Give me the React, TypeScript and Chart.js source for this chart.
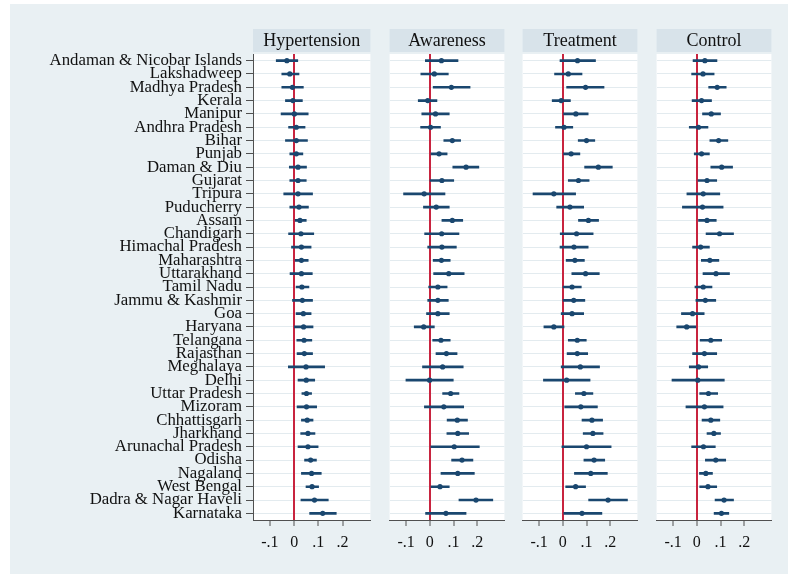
import React, { useEffect, useRef } from "react";
import { Chart, registerables } from "chart.js";

Chart.register(...registerables);

const states = [
  "Andaman & Nicobar Islands", "Lakshadweep", "Madhya Pradesh", "Kerala", "Manipur",
  "Andhra Pradesh", "Bihar", "Punjab", "Daman & Diu", "Gujarat", "Tripura", "Puducherry",
  "Assam", "Chandigarh", "Himachal Pradesh", "Maharashtra", "Uttarakhand", "Tamil Nadu",
  "Jammu & Kashmir", "Goa", "Haryana", "Telangana", "Rajasthan", "Meghalaya", "Delhi",
  "Uttar Pradesh", "Mizoram", "Chhattisgarh", "Jharkhand", "Arunachal Pradesh", "Odisha",
  "Nagaland", "West Bengal", "Dadra & Nagar Haveli", "Karnataka",
];

const xTicks = [-0.1, 0, 0.1, 0.2];
const xMin = -0.17;
const xMax = 0.315;

const panelTitles = ["Hypertension", "Awareness", "Treatment", "Control"];

const hypEst = [-0.030, -0.018, -0.007, -0.005, 0.001, 0.009, 0.009, 0.009, 0.016, 0.016, 0.016, 0.020, 0.024, 0.028, 0.030, 0.030, 0.030, 0.032, 0.034, 0.038, 0.039, 0.041, 0.042, 0.049, 0.050, 0.051, 0.051, 0.054, 0.057, 0.057, 0.068, 0.072, 0.074, 0.084, 0.118];
const hypLo = [-0.074, -0.051, -0.051, -0.036, -0.054, -0.023, -0.036, -0.018, -0.020, -0.018, -0.043, -0.018, 0.000, -0.023, -0.011, 0.000, -0.017, 0.008, -0.007, 0.008, 0.001, 0.011, 0.012, -0.024, 0.016, 0.032, 0.012, 0.030, 0.027, 0.016, 0.043, 0.030, 0.049, 0.028, 0.064];
const hypHi = [0.015, 0.020, 0.038, 0.034, 0.058, 0.045, 0.055, 0.036, 0.051, 0.050, 0.076, 0.059, 0.050, 0.081, 0.070, 0.058, 0.075, 0.061, 0.076, 0.070, 0.078, 0.073, 0.076, 0.126, 0.085, 0.072, 0.093, 0.078, 0.086, 0.099, 0.092, 0.112, 0.101, 0.141, 0.174];

const awaEst = [0.049, 0.019, 0.091, -0.009, 0.024, 0.003, 0.095, 0.039, 0.153, 0.051, -0.024, 0.027, 0.095, 0.050, 0.051, 0.049, 0.080, 0.034, 0.034, 0.034, -0.026, 0.047, 0.070, 0.054, -0.001, 0.088, 0.059, 0.116, 0.118, 0.103, 0.136, 0.118, 0.043, 0.195, 0.068];
const awaLo = [-0.019, -0.038, 0.014, -0.049, -0.034, -0.039, 0.059, 0.005, 0.097, 0.001, -0.111, -0.027, 0.051, -0.022, -0.009, 0.014, 0.016, -0.005, -0.009, -0.014, -0.066, 0.012, 0.026, -0.031, -0.101, 0.054, -0.023, 0.073, 0.072, 0.000, 0.092, 0.047, 0.005, 0.123, -0.018];
const awaHi = [0.119, 0.078, 0.170, 0.030, 0.082, 0.045, 0.130, 0.073, 0.207, 0.101, 0.064, 0.082, 0.139, 0.123, 0.112, 0.086, 0.145, 0.073, 0.078, 0.082, 0.019, 0.086, 0.115, 0.141, 0.099, 0.123, 0.143, 0.159, 0.164, 0.209, 0.182, 0.188, 0.082, 0.266, 0.153];

const treEst = [0.062, 0.023, 0.096, -0.007, 0.055, 0.005, 0.100, 0.035, 0.150, 0.066, -0.038, 0.030, 0.108, 0.058, 0.047, 0.051, 0.096, 0.039, 0.046, 0.039, -0.038, 0.061, 0.061, 0.074, 0.016, 0.089, 0.076, 0.123, 0.127, 0.100, 0.132, 0.118, 0.054, 0.191, 0.081];
const treLo = [-0.012, -0.035, 0.016, -0.045, 0.003, -0.031, 0.065, 0.003, 0.092, 0.023, -0.126, -0.026, 0.066, -0.011, -0.012, 0.014, 0.038, 0.001, 0.001, -0.007, -0.080, 0.023, 0.018, -0.007, -0.082, 0.053, 0.008, 0.081, 0.086, -0.004, 0.089, 0.049, 0.012, 0.109, 0.000];
const treHi = [0.138, 0.081, 0.174, 0.032, 0.107, 0.042, 0.135, 0.072, 0.209, 0.111, 0.054, 0.088, 0.151, 0.128, 0.107, 0.091, 0.154, 0.078, 0.093, 0.088, 0.005, 0.099, 0.105, 0.155, 0.115, 0.127, 0.146, 0.168, 0.170, 0.204, 0.177, 0.188, 0.096, 0.273, 0.165];

const conEst = [0.034, 0.026, 0.086, 0.020, 0.061, 0.007, 0.092, 0.020, 0.105, 0.043, 0.027, 0.024, 0.043, 0.096, 0.016, 0.055, 0.081, 0.027, 0.036, -0.018, -0.043, 0.059, 0.032, 0.007, 0.004, 0.049, 0.032, 0.059, 0.072, 0.028, 0.080, 0.038, 0.047, 0.115, 0.104];
const conLo = [-0.016, -0.022, 0.050, -0.020, 0.024, -0.032, 0.055, -0.011, 0.059, 0.005, -0.042, -0.061, 0.007, 0.039, -0.018, 0.019, 0.026, -0.008, -0.004, -0.065, -0.085, 0.014, -0.018, -0.032, -0.105, 0.012, -0.046, 0.022, 0.043, -0.022, 0.036, 0.011, 0.012, 0.077, 0.073];
const conHi = [0.085, 0.073, 0.124, 0.062, 0.100, 0.047, 0.131, 0.053, 0.151, 0.084, 0.097, 0.111, 0.082, 0.155, 0.053, 0.093, 0.138, 0.064, 0.080, 0.031, 0.000, 0.105, 0.084, 0.046, 0.116, 0.088, 0.111, 0.097, 0.100, 0.078, 0.122, 0.066, 0.084, 0.155, 0.135];

const panelEst = [hypEst, awaEst, treEst, conEst];
const panelLo = [hypLo, awaLo, treLo, conLo];
const panelHi = [hypHi, awaHi, treHi, conHi];

const NAVY = "#1a476f";
const RED = "#c8243f";
const BG = "#e9f0f3";
const STRIP = "#d8e3ea";
const GRID = "#e3ebef";
const AXIS = "#505050";
const SERIF = '"Liberation Serif", "Times New Roman", serif';

const panelDecor = {
  id: "panelDecor",
  beforeDraw(chart: any, _args: any, opts: any) {
    const { ctx, chartArea: a } = chart;
    ctx.save();
    ctx.fillStyle = "#ffffff";
    ctx.fillRect(a.left, a.top, a.right - a.left, a.bottom - a.top);
    ctx.fillStyle = STRIP;
    ctx.fillRect(a.left, a.top - 25, a.right - a.left, 23);
    ctx.fillStyle = "#111111";
    ctx.font = `18px ${SERIF}`;
    ctx.textAlign = "center";
    ctx.textBaseline = "middle";
    ctx.fillText(opts.text, (a.left + a.right) / 2, a.top - 13);
    ctx.restore();
  },
};

const fmt = (v: number) => {
  if (Math.abs(v) < 1e-9) return "0";
  const s = String(Math.round(Math.abs(v) * 10) / 10).replace(/^0/, "");
  return (v < 0 ? "-" : "") + s;
};

const CANVAS_TOP = 4;
const CANVAS_H = 570;

function Panel({ idx, left, width, yWidth }: { idx: number; left: number; width: number; yWidth: number }) {
  const ref = useRef<HTMLCanvasElement | null>(null);
  useEffect(() => {
    if (!ref.current) return;
    const showY = yWidth > 0;
    const est = panelEst[idx];
    const lo = panelLo[idx];
    const hi = panelHi[idx];
    const chart = new Chart(ref.current, {
      type: "bar",
      data: {
        labels: states,
        datasets: [
          {
            type: "bar",
            data: states.map((_, i) => [lo[i], hi[i]]) as any,
            backgroundColor: NAVY,
            borderWidth: 0,
            barThickness: 2,
            xAxisID: "x",
            yAxisID: "y",
            order: 2,
          } as any,
          {
            type: "scatter",
            data: states.map((s, i) => ({ x: est[i], y: s })) as any,
            backgroundColor: NAVY,
            borderWidth: 0,
            pointRadius: 2.6,
            pointHoverRadius: 2.6,
            xAxisID: "x",
            yAxisID: "y",
            order: 1,
          } as any,
        ],
      },
      options: {
        indexAxis: "y",
        responsive: false,
        animation: false,
        events: [],
        layout: { padding: { top: 50, left: 0, right: 0, bottom: 0 } },
        plugins: {
          legend: { display: false },
          tooltip: { enabled: false },
          title: { display: false },
          panelDecor: { text: panelTitles[idx] },
        } as any,
        scales: {
          y: {
            type: "category",
            offset: true,
            grid: {
              offset: false,
              color: GRID,
              lineWidth: 1,
              drawTicks: showY,
              tickLength: 7,
              tickColor: AXIS,
              tickWidth: 1,
            },
            border: { display: showY, color: AXIS, width: 1 },
            ticks: {
              display: showY,
              autoSkip: false,
              padding: 4,
              color: "#111111",
              font: { family: SERIF, size: 16.8 },
            },
            afterFit: (axis: any) => {
              axis.width = yWidth;
            },
          },
          x: {
            type: "linear",
            min: xMin,
            max: xMax,
            afterBuildTicks: (axis: any) => {
              axis.ticks = xTicks.map((v) => ({ value: v }));
            },
            grid: {
              color: (c: any) => (c.tick && Math.abs(c.tick.value) < 1e-9 ? RED : "rgba(0,0,0,0)"),
              lineWidth: 2,
              drawTicks: true,
              tickLength: 6,
              tickColor: AXIS,
              tickWidth: 1,
            },
            border: { display: true, color: AXIS, width: 1 },
            ticks: {
              padding: 7,
              maxRotation: 0,
              autoSkip: false,
              color: "#111111",
              font: { family: SERIF, size: 16 },
              callback: (v: any) => fmt(Number(v)),
            },
            afterFit: (axis: any) => {
              axis.height = 54;
            },
          },
        },
      } as any,
      plugins: [panelDecor],
    });
    return () => chart.destroy();
  }, [idx, left, width, yWidth]);
  return (
    <canvas
      ref={ref}
      width={width}
      height={CANVAS_H}
      style={{ position: "absolute", left, top: CANVAS_TOP, width, height: CANVAS_H }}
    />
  );
}

export default function App() {
  return (
    <div style={{ position: "absolute", left: 0, top: 0, width: 788, height: 575, background: "#ffffff", overflow: "hidden" }}>
      <div style={{ position: "absolute", left: 10, top: 4, width: 778, height: 570, background: BG }} />
      <Panel idx={0} left={10} width={363} yWidth={243} />
      <Panel idx={1} left={387} width={120} yWidth={0} />
      <Panel idx={2} left={520} width={120} yWidth={0} />
      <Panel idx={3} left={654} width={120} yWidth={0} />
    </div>
  );
}
